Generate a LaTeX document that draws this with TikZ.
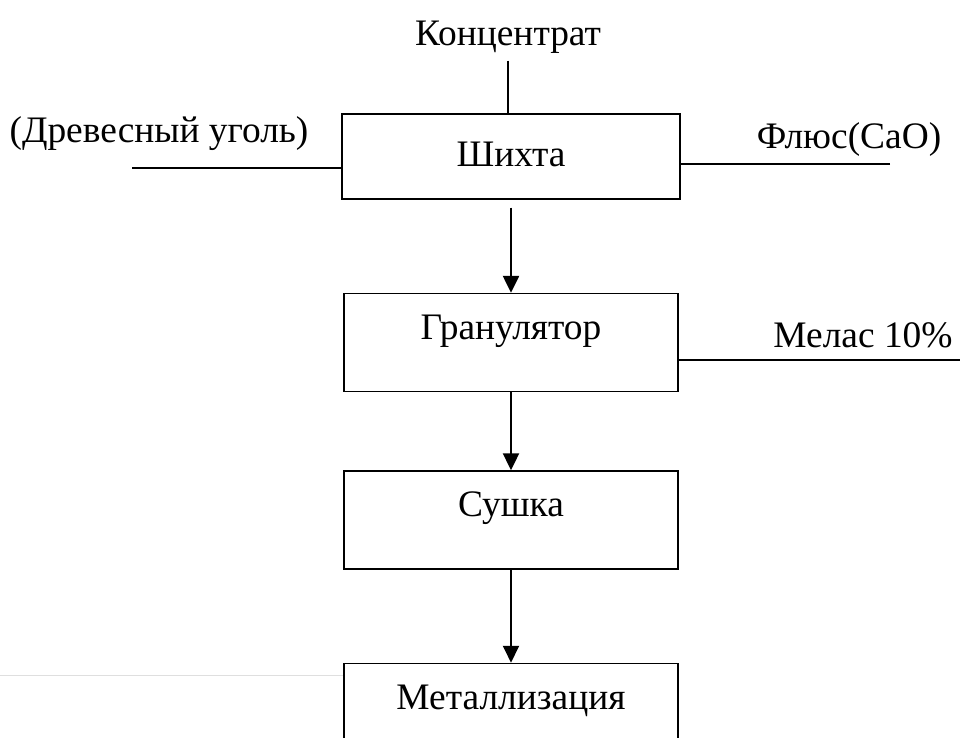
\documentclass[tikz,border=0pt]{standalone}
\usepackage{fontspec}
\setmainfont{Liberation Serif}
\usetikzlibrary{arrows.meta, positioning}

\begin{document}
\begin{tikzpicture}[
            x = 0.025cm, y = -0.025cm, % one unit = one pixel of the scheme
            > = {Triangle[length=0.42cm, width=0.4cm]}, % arrow head style
            node distance = 2.325cm, % distance between boxes
            font = \fontsize{26.6}{30}\selectfont,
            line width = 1pt
        ]

        \tikzstyle{box}=[
            draw = black,
            inner sep = 0pt,
            minimum width = 8.35cm,
            text height = 1.15cm,
            text depth = 1.3cm
        ]
        \tikzstyle{feed}=[
            anchor = base,
            inner sep = 0pt
        ]

        \useasboundingbox (0, 0) rectangle (960, 737);

        % process boxes
        \node[box, minimum width = 8.45cm, text height = 1.3cm, text depth = 0.825cm] (shihta) at (511, 156.5) {Шихта};
        \node[box] (gran) [below=of shihta] {Гранулятор};
        \node[box] (sushka) [below=1.95cm of gran] {Сушка};
        \node[box] (metal) [below=of sushka] {Металлизация};

        % inputs
        \node[feed] (conc) at (508, 45) {Концентрат};
        \node[feed] (coal) at (159, 142) {(Древесный уголь)};
        \node[feed] (flux) at (849, 148) {Флюс(CaO)};
        \node[feed] (melas) at (863, 347) {Мелас 10\%};

        \coordinate (coalend) at (132, 168);
        \coordinate (fluxend) at (890, 164);
        \coordinate (melasend) at (960, 360);

        \draw (conc.south) ++(0, 7) -- (conc.south |- shihta.north);
        \draw (coalend) -- (coalend -| shihta.west);
        \draw (fluxend) -- (fluxend -| shihta.east);
        \draw (melasend) -- (melasend -| gran.east);

        \path[->, line width = 1.4pt] (shihta) edge[shorten <= 0.2cm] (gran);
        \path[->, line width = 1.4pt] (gran) edge (sushka);
        \path[->, line width = 1.4pt] (sushka) edge (metal);

        \coordinate (faint) at (0, 675);
        \draw[gray!25, line width = 0.5pt] (faint) -- (faint -| metal.west);

    \end{tikzpicture}
\end{document}
